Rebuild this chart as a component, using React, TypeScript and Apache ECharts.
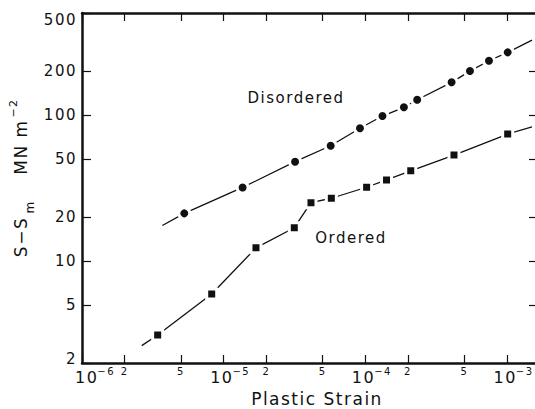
import { useEffect, useRef } from 'react';
import * as echarts from 'echarts';

// tick positions
const xTickValues = [1e-6, 2e-6, 5e-6, 1e-5, 2e-5, 5e-5, 1e-4, 2e-4, 5e-4, 1e-3];
const yTickValues = [2, 5, 10, 20, 50, 100, 200, 500];

// Disordered (circles)
const disStrain = [5.27e-6, 1.36e-5, 3.19e-5, 5.69e-5, 9.16e-5, 1.32e-4, 1.87e-4, 2.32e-4, 4.06e-4, 5.47e-4, 7.45e-4, 1.01e-3];
const disStress = [21.2, 31.9, 47.9, 61.6, 81.1, 98.4, 112.9, 127.3, 167.5, 200, 235.5, 268.7];
const disLineX = [3.69e-6, 1.5e-3];
const disLineY = [17.5, 326];

// Ordered (squares)
const ordStrain = [3.42e-6, 8.23e-6, 1.69e-5, 3.15e-5, 4.13e-5, 5.75e-5, 1.02e-4, 1.41e-4, 2.09e-4, 4.22e-4, 1.01e-3];
const ordStress = [3.11, 5.94, 12.3, 16.9, 25.1, 26.9, 32.0, 35.9, 41.5, 53.2, 74.1];
const ordLineX = [2.64e-6, 1.5e-3];
const ordLineY = [2.63, 83];

const FONT = 'DejaVu Sans';
const INK = '#111';

export default function App() {
  const ref = useRef<HTMLDivElement>(null);
  useEffect(() => {
    if (!ref.current) return;
    const chart = echarts.init(ref.current, undefined, { renderer: 'svg' });

    const disPts = disStrain.map((x, i) => [x, disStress[i]]);
    const ordPts = ordStrain.map((x, i) => [x, ordStress[i]]);
    const disLine = [[disLineX[0], disLineY[0]], ...disPts, [disLineX[1], disLineY[1]]];
    const ordLine = [[ordLineX[0], ordLineY[0]], ...ordPts, [ordLineX[1], ordLineY[1]]];

    const xFormatter = (v: number) => {
      const e = Math.floor(Math.log10(v) + 1e-6);
      const m = Math.round(v / Math.pow(10, e));
      if (m === 1) return e === -6 ? `{b0|10}{e|\u2212${-e}}` : `{b|10}{e|\u2212${-e}}`;
      return `{s|${m}}`;
    };
    const yFormatter = (v: number) => {
      if (Math.abs(v - 500) < 1e-6) return `{t|${v}}`;
      if (Math.abs(v - 2) < 1e-6) return `{bt|${v}}`;
      return `{n|${v}}`;
    };

    const axisLine = { show: true, onZero: false, lineStyle: { color: INK, width: 2.5 } };
    const centered = { align: 'center', verticalAlign: 'middle', textAlign: 'center', textVerticalAlign: 'middle' };

    chart.setOption({
      animation: false,
      backgroundColor: '#fff',
      grid: { left: 82, top: 13, width: 454, height: 350, containLabel: false, outerBoundsMode: 'none' },
      xAxis: [
        {
          type: 'log',
          logBase: 10,
          min: 1e-6,
          max: 1.6e-3,
          position: 'bottom',
          axisLine,
          axisTick: { show: true, inside: true, length: 8, customValues: xTickValues, lineStyle: { color: INK, width: 1.2 } },
          splitLine: { show: false },
          minorTick: { show: false },
          axisLabel: {
            customValues: xTickValues,
            formatter: xFormatter,
            margin: 3,
            color: INK,
            fontFamily: FONT,
            hideOverlap: false,
            rich: {
              b0: { fontSize: 16, fontFamily: FONT, color: INK, padding: [3, 2, 0, 26], verticalAlign: 'top' },
              b: { fontSize: 16, fontFamily: FONT, color: INK, padding: [3, 2, 0, 13], verticalAlign: 'top' },
              e: { fontSize: 10, fontFamily: FONT, color: INK, verticalAlign: 'top' },
              s: { fontSize: 10, fontFamily: FONT, color: INK },
            },
          },
        },
        {
          type: 'log',
          logBase: 10,
          min: 1e-6,
          max: 1.6e-3,
          position: 'top',
          axisLine,
          axisTick: { show: true, inside: true, length: 8, customValues: xTickValues, lineStyle: { color: INK, width: 1.2 } },
          splitLine: { show: false },
          axisLabel: { show: false },
        },
      ],
      yAxis: [
        {
          type: 'log',
          logBase: 10,
          min: 2,
          max: 500,
          position: 'left',
          axisLine,
          axisTick: { show: true, inside: true, length: 9, customValues: yTickValues, lineStyle: { color: INK, width: 1.2 } },
          splitLine: { show: false },
          axisLabel: {
            customValues: yTickValues,
            formatter: yFormatter,
            margin: 5,
            color: INK,
            fontFamily: FONT,
            fontSize: 15,
            hideOverlap: false,
            rich: {
              n: { fontSize: 15, fontFamily: FONT, color: INK },
              t: { fontSize: 15, fontFamily: FONT, color: INK, padding: [14, 0, 0, 0] },
              bt: { fontSize: 15, fontFamily: FONT, color: INK, padding: [0, 0, 8, 0] },
            },
          },
        },
        {
          type: 'log',
          logBase: 10,
          min: 2,
          max: 500,
          position: 'right',
          axisLine: { show: false },
          axisTick: { show: true, inside: true, length: 7, customValues: yTickValues, lineStyle: { color: INK, width: 1.2 } },
          splitLine: { show: false },
          axisLabel: { show: false },
        },
      ],
      series: [
        {
          name: 'Disordered fit',
          type: 'line',
          data: disLine,
          showSymbol: false,
          symbol: 'none',
          lineStyle: { color: INK, width: 1.3 },
          z: 2,
        },
        {
          name: 'Ordered fit',
          type: 'line',
          data: ordLine,
          showSymbol: false,
          symbol: 'none',
          lineStyle: { color: INK, width: 1.3 },
          z: 2,
        },
        {
          name: 'Disordered',
          type: 'scatter',
          data: disPts,
          symbol: 'circle',
          symbolSize: 11,
          itemStyle: { color: INK, borderColor: '#fff', borderWidth: 3, opacity: 1 },
          z: 3,
        },
        {
          name: 'Ordered',
          type: 'scatter',
          data: ordPts,
          symbol: 'rect',
          symbolSize: 10,
          itemStyle: { color: INK, borderColor: '#fff', borderWidth: 3, opacity: 1 },
          z: 3,
        },
      ],
      graphic: [
        { type: 'text', x: 296, y: 98, style: { text: 'Disordered', fontSize: 15, fontFamily: FONT, fill: INK, ...centered } },
        { type: 'text', x: 351, y: 238, style: { text: 'Ordered', fontSize: 15, fontFamily: FONT, fill: INK, ...centered } },
        { type: 'text', x: 317, y: 399, style: { text: 'Plastic Strain', fontSize: 17, fontFamily: FONT, fill: INK, ...centered } },
        { type: 'text', x: 21, y: 237, rotation: Math.PI / 2, style: { text: 'S\u2212S', fontSize: 17, fontFamily: FONT, fill: INK, ...centered } },
        { type: 'text', x: 30, y: 207, rotation: Math.PI / 2, style: { text: 'm', fontSize: 12, fontFamily: FONT, fill: INK, ...centered } },
        { type: 'text', x: 21, y: 147, rotation: Math.PI / 2, style: { text: 'MN m', fontSize: 17, fontFamily: FONT, fill: INK, ...centered } },
        { type: 'text', x: 13, y: 108, rotation: Math.PI / 2, style: { text: '\u22122', fontSize: 11, fontFamily: FONT, fill: INK, ...centered } },
      ],
    });
    return () => chart.dispose();
  }, []);

  return (
    <div
      ref={ref}
      style={{ position: 'fixed', left: 0, top: 0, width: 535, height: 409, letterSpacing: '1.5px', background: '#fff' }}
    />
  );
}
